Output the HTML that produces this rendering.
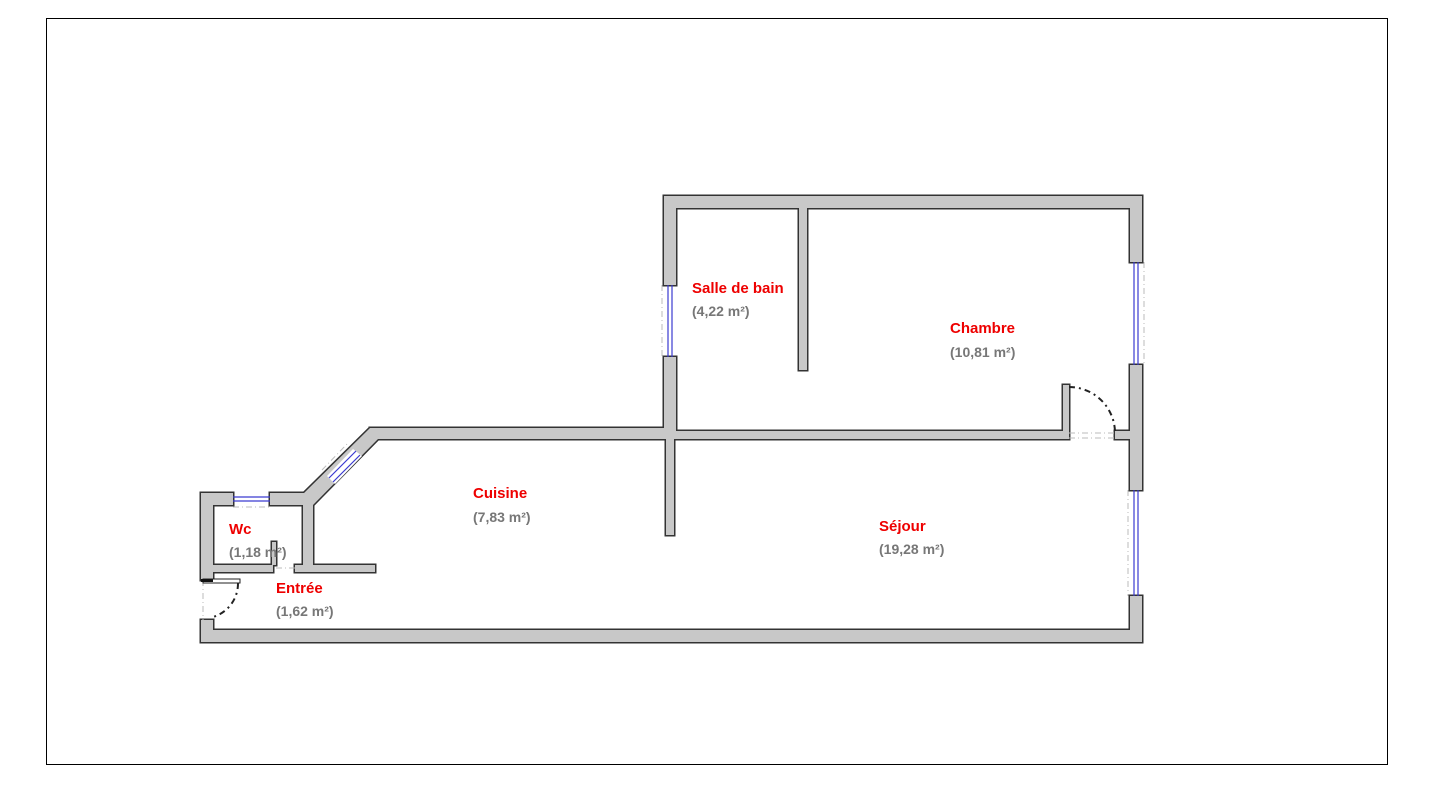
<!DOCTYPE html>
<html><head><style>body{margin:0;background:#fff}svg{display:block}</style></head><body>
<svg width="1434" height="789" viewBox="0 0 1434 789" xmlns="http://www.w3.org/2000/svg" font-family="Liberation Sans, sans-serif">
<rect x="46.5" y="18.5" width="1341" height="746" fill="#fff" stroke="#000" stroke-width="1"/>
<defs>
<g id="walls">
<rect x="664" y="196" width="478" height="12"/>
<rect x="664" y="196" width="12" height="89"/>
<rect x="664" y="357" width="12" height="82"/>
<rect x="1130" y="196" width="12" height="66"/>
<rect x="1130" y="365" width="12" height="125"/>
<rect x="1130" y="596" width="12" height="46"/>
<rect x="799" y="208" width="8" height="162"/>
<rect x="370" y="428" width="306" height="11"/>
<rect x="676" y="431" width="390" height="8"/>
<rect x="1115" y="431" width="15" height="8"/>
<rect x="1063" y="385" width="6" height="54"/>
<rect x="666" y="439" width="8" height="96"/>
<polygon points="303,494 370,428 378,428 378,439 313,505 303,505"/>
<rect x="201" y="630" width="941" height="12"/>
<rect x="201" y="493" width="12" height="87"/>
<rect x="201" y="620" width="12" height="22"/>
<rect x="201" y="493" width="32" height="12"/>
<rect x="270" y="493" width="40" height="12"/>
<rect x="303" y="500" width="10" height="72"/>
<rect x="213" y="565" width="60" height="7"/>
<rect x="295" y="565" width="80" height="7"/>
<rect x="272" y="542" width="4" height="23"/>
</g>
</defs>
<use href="#walls" fill="#333" stroke="#333" stroke-width="3"/>
<use href="#walls" fill="#c8c8c8" stroke="none"/>
<g stroke="#3a3ad0" stroke-width="1.2">
<line x1="668" y1="285" x2="668" y2="357"/><line x1="672" y1="285" x2="672" y2="357"/>
<line x1="1134" y1="262" x2="1134" y2="365"/><line x1="1138" y1="262" x2="1138" y2="365"/>
<line x1="1134" y1="490" x2="1134" y2="596"/><line x1="1138" y1="490" x2="1138" y2="596"/>
<line x1="233" y1="497" x2="270" y2="497"/><line x1="233" y1="501" x2="270" y2="501"/>
</g>
<polygon points="327,476 353,449 362,456 335,484" fill="#fff"/>
<line x1="329" y1="478" x2="356" y2="451" stroke="#3a3ad0" stroke-width="1.2"/>
<line x1="333" y1="482" x2="360" y2="455" stroke="#3a3ad0" stroke-width="1.2"/>
<g stroke="#bbb" stroke-width="1" stroke-dasharray="6,3,1,3" fill="none">
<line x1="662" y1="285" x2="662" y2="357"/>
<line x1="1144" y1="262" x2="1144" y2="365"/>
<line x1="1128" y1="490" x2="1128" y2="596"/>
<line x1="233" y1="507" x2="270" y2="507"/>
<line x1="322" y1="470" x2="348" y2="443"/>
<line x1="1069" y1="433" x2="1115" y2="433"/><line x1="1069" y1="438" x2="1115" y2="438"/>
<line x1="276" y1="568" x2="295" y2="568"/>
<line x1="203" y1="580" x2="203" y2="620"/>
</g>
<path d="M1069,387 A46,46 0 0 1 1115,433" fill="none" stroke="#222" stroke-width="2" stroke-dasharray="6,4,2,4"/>
<rect x="203" y="579" width="37" height="4" fill="#fff" stroke="#222" stroke-width="1"/>
<rect x="201" y="579" width="12" height="3" fill="#111"/>
<path d="M238,583 A35,35 0 0 1 213,617" fill="none" stroke="#222" stroke-width="2" stroke-dasharray="6,4,2,4"/>
<g font-weight="bold" font-size="15">
<text x="692" y="293" fill="#e00">Salle de bain</text>
<text x="692" y="316" fill="#777" font-size="14">(4,22 m²)</text>
<text x="950" y="333" fill="#e00">Chambre</text>
<text x="950" y="357" fill="#777" font-size="14">(10,81 m²)</text>
<text x="473" y="498" fill="#e00">Cuisine</text>
<text x="473" y="522" fill="#777" font-size="14">(7,83 m²)</text>
<text x="879" y="531" fill="#e00">Séjour</text>
<text x="879" y="554" fill="#777" font-size="14">(19,28 m²)</text>
<text x="229" y="534" fill="#e00">Wc</text>
<text x="229" y="557" fill="#777" font-size="14">(1,18 m²)</text>
<text x="276" y="593" fill="#e00">Entrée</text>
<text x="276" y="616" fill="#777" font-size="14">(1,62 m²)</text>
</g>
</svg>
</body></html>
